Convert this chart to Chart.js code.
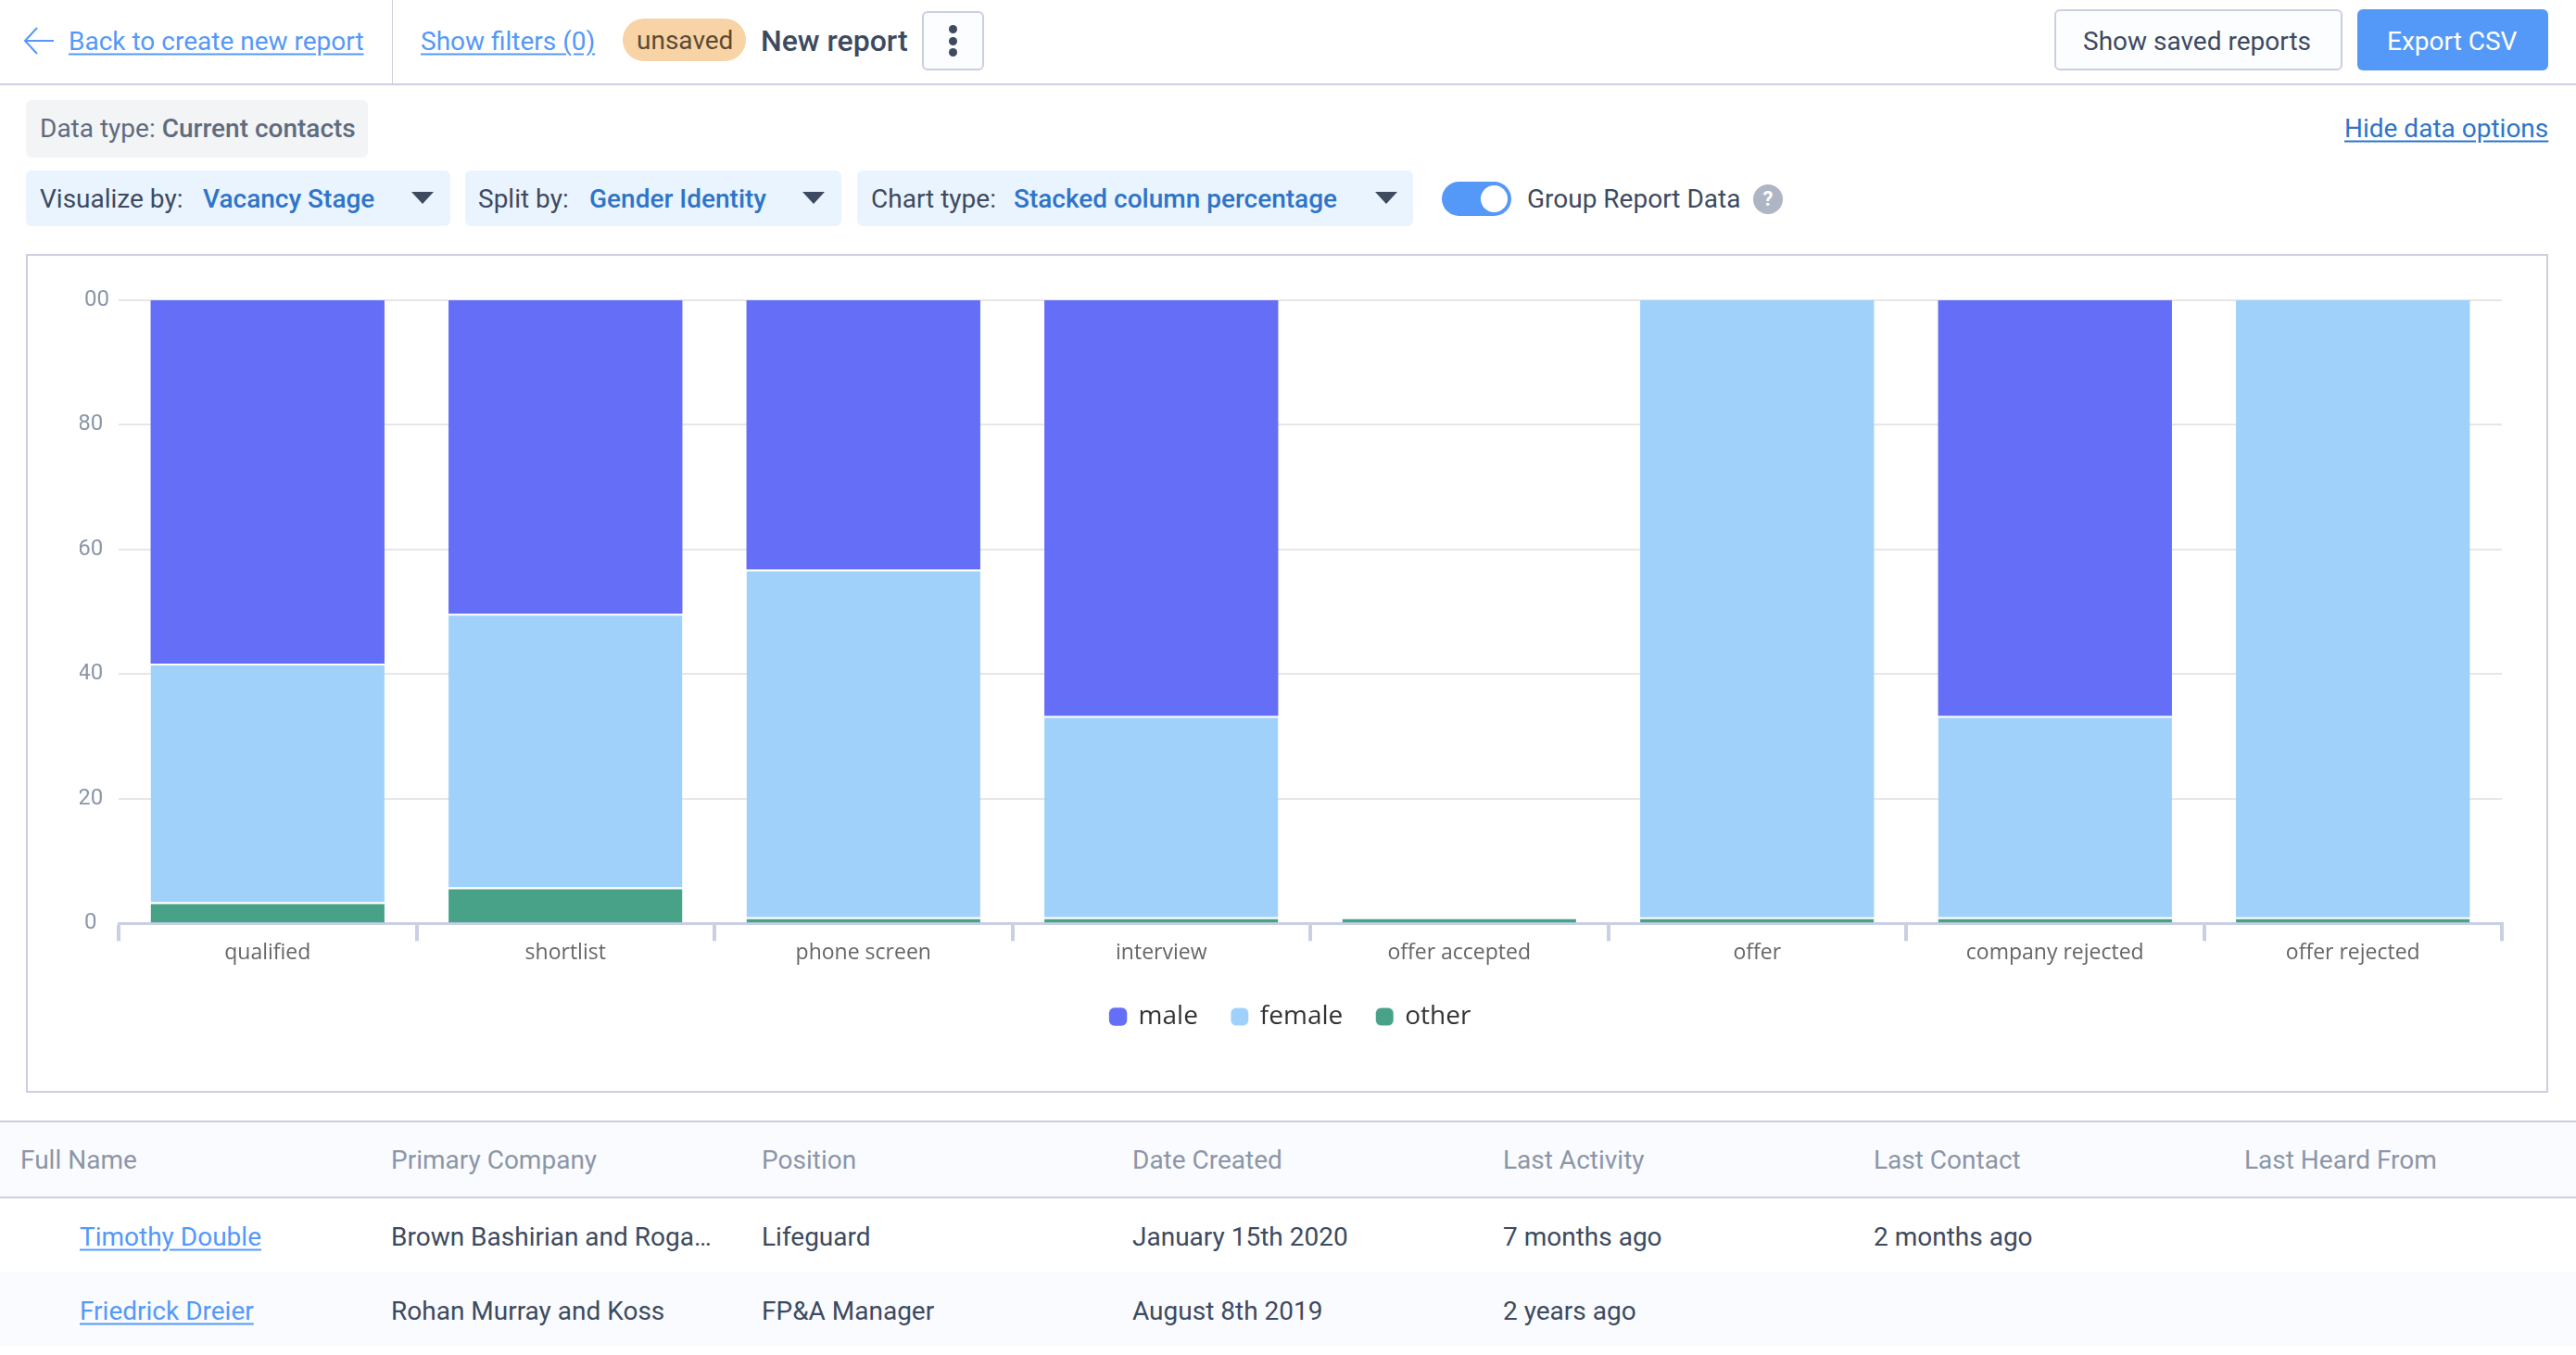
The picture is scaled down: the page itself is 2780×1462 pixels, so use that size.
<!DOCTYPE html>
<html>
<head>
<meta charset="utf-8">
<title>New report</title>
<script src="https://cdn.jsdelivr.net/npm/chart.js"></script>
<style>
html, body { margin: 0; padding: 0; background: #fff; }
body { width: 2780px; height: 1462px; position: relative; overflow: hidden; font-family: Roboto, sans-serif; font-size: 28px; color: #3d4a5f; }
.t { position: absolute; white-space: nowrap; transform: translateY(-50%); }
.box { position: absolute; box-sizing: border-box; }
.link { color: #5499f8; text-decoration: underline; text-underline-offset: 4px; }
.val { color: #2e75c9; font-weight: 500; }
.caret { position: absolute; width: 0; height: 0; border-left: 12px solid transparent; border-right: 12px solid transparent; border-top: 13px solid #3d4a5f; top: 207px; }
.head { color: #8b96a8; }
.dot { position: absolute; width: 9px; height: 9px; border-radius: 50%; background: #3d4a5f; left: 1024px; }
#chart { position: absolute; left: 31px; top: 278px; }
</style>
</head>
<body>
<!-- top bar -->
<div class="box" style="left:0;top:90px;width:2780px;height:2px;background:#cbcfe0"></div>
<div class="box" style="left:423px;top:0;width:1px;height:90px;background:#cbcfe0"></div>
<svg class="box" style="left:24px;top:28px" width="36" height="32" viewBox="0 0 36 32"><path d="M34 16H3M16 2L3 16l13 14" fill="none" stroke="#5499f8" stroke-width="2"/></svg>
<div class="t link" style="left:74px;top:44px">Back to create new report</div>
<div class="t link" style="left:454px;top:44px">Show filters (0)</div>
<div class="box" style="left:672px;top:20px;width:133px;height:46px;border-radius:23px;background:#f8d3a5"></div>
<div class="t" style="left:687px;top:43px;color:#5c4a33">unsaved</div>
<div class="t" style="left:821px;top:44px;font-weight:500;font-size:32px">New report</div>
<div class="box" style="left:995px;top:12px;width:67px;height:64px;border:2px solid #cbcfe0;border-radius:6px;background:#fcfdff"></div>
<div class="dot" style="top:27px"></div><div class="dot" style="top:40px"></div><div class="dot" style="top:52px"></div>
<div class="box" style="left:2217px;top:10px;width:311px;height:66px;border:2px solid #cbcfe0;border-radius:6px;background:#fcfdff"></div>
<div class="t" style="left:2248px;top:44px">Show saved reports</div>
<div class="box" style="left:2544px;top:10px;width:206px;height:66px;border-radius:6px;background:#5499f8"></div>
<div class="t" style="left:2576px;top:44px;color:#fff">Export CSV</div>

<!-- data options -->
<div class="box" style="left:28px;top:108px;width:369px;height:62px;border-radius:6px;background:#f3f4f6"></div>
<div class="t" style="left:43px;top:138px;color:#5f6b7e">Data type: <span style="font-weight:500">Current contacts</span></div>
<div class="t" style="left:2530px;top:138px;color:#2e75c9;text-decoration:underline;text-underline-offset:4px">Hide data options</div>

<div class="box" style="left:28px;top:184px;width:458px;height:60px;border-radius:6px;background:#eaf4fe"></div>
<div class="t" style="left:43px;top:214px">Visualize by:</div>
<div class="t val" style="left:219px;top:214px">Vacancy Stage</div>
<div class="caret" style="left:444px"></div>
<div class="box" style="left:502px;top:184px;width:406px;height:60px;border-radius:6px;background:#eaf4fe"></div>
<div class="t" style="left:516px;top:214px">Split by:</div>
<div class="t val" style="left:636px;top:214px">Gender Identity</div>
<div class="caret" style="left:866px"></div>
<div class="box" style="left:925px;top:184px;width:600px;height:60px;border-radius:6px;background:#eaf4fe"></div>
<div class="t" style="left:940px;top:214px">Chart type:</div>
<div class="t val" style="left:1094px;top:214px">Stacked column percentage</div>
<div class="caret" style="left:1484px"></div>
<div class="box" style="left:1556px;top:196px;width:75px;height:37px;border-radius:19px;background:#5499f8"></div>
<div class="box" style="left:1598px;top:200px;width:29px;height:29px;border-radius:50%;background:#fff"></div>
<div class="t" style="left:1648px;top:214px">Group Report Data</div>
<div class="box" style="left:1892px;top:199px;width:32px;height:32px;border-radius:50%;background:#aeb5c4;color:#fff;font-size:22px;font-weight:700;line-height:32px;text-align:center">?</div>

<!-- chart -->
<div class="box" style="left:28px;top:274px;width:2722px;height:905px;border:2px solid #cbcfe0"></div>
<canvas id="chart" width="2715" height="896"></canvas>

<!-- table -->
<div class="box" style="left:0;top:1209px;width:2780px;height:84px;background:#fafbfe;border-top:2px solid #cbcfe0;border-bottom:2px solid #cbcfe0"></div>
<div class="box" style="left:0;top:1372px;width:2780px;height:80px;background:#fafbfe"></div>
<div id="table"></div>

<script>
const categories = ['qualified', 'shortlist', 'phone screen', 'interview', 'offer accepted', 'offer', 'company rejected', 'offer rejected'];
const maleValues = [58.3, 50.3, 43.2, 66.7, 0, 0, 66.7, 0];
const femaleValues = [38.3, 43.9, 55.8, 32.3, 0, 99, 32.3, 99];
const otherValues = [3.4, 5.8, 1, 1, 1, 1, 1, 1];

const tableColumns = ['Full Name', 'Primary Company', 'Position', 'Date Created', 'Last Activity', 'Last Contact', 'Last Heard From'];
const tableRows = [
    ['Timothy Double', 'Brown Bashirian and Roga…', 'Lifeguard', 'January 15th 2020', '7 months ago', '2 months ago', ''],
    ['Friedrick Dreier', 'Rohan Murray and Koss', 'FP&A Manager', 'August 8th 2019', '2 years ago', '', '']
];

// table text
const columnX = [22, 422, 822, 1222, 1622, 2022, 2422];
const rowY = [1334, 1414];
let html = '';
tableColumns.forEach((c, i) => {
    html += `<div class="t head" style="left:${columnX[i]}px;top:1251px">${c}</div>`;
});
tableRows.forEach((row, r) => {
    row.forEach((cell, i) => {
        if (i === 0) {
            html += `<div class="t link" style="left:86px;top:${rowY[r]}px">${cell}</div>`;
        } else {
            html += `<div class="t" style="left:${columnX[i]}px;top:${rowY[r]}px">${cell.replace('&', '&amp;')}</div>`;
        }
    });
});
document.getElementById('table').innerHTML = html;

const axisColor = '#c9d0e4';

// white gap only where another segment sits on top
const femaleBorder = ctx => ({ top: maleValues[ctx.dataIndex] > 0 ? 2 : 0, left: 0, right: 0, bottom: 0 });

new Chart(document.getElementById('chart').getContext('2d'), {
    type: 'bar',
    data: {
        labels: categories,
        datasets: [
            { label: 'other', data: otherValues, backgroundColor: '#47a287', borderColor: '#fff', borderWidth: { top: 2, left: 0, right: 0, bottom: 0 }, borderSkipped: false },
            { label: 'female', data: femaleValues, backgroundColor: '#a0d1fb', borderColor: '#fff', borderWidth: femaleBorder, borderSkipped: false },
            { label: 'male', data: maleValues, backgroundColor: '#646ef7', borderWidth: 0 }
        ]
    },
    options: {
        responsive: false,
        animation: false,
        layout: { padding: { top: 46, left: 55, right: 46, bottom: 53 } },
        datasets: { bar: { categoryPercentage: 1, barPercentage: 0.785 } },
        plugins: {
            tooltip: { enabled: false },
            legend: {
                position: 'bottom',
                reverse: true,
                labels: {
                    usePointStyle: true,
                    pointStyle: 'rectRounded',
                    boxWidth: 16,
                    boxHeight: 16,
                    padding: 37,
                    color: '#333',
                    font: { family: '"Open Sans"', size: 28 }
                }
            }
        },
        scales: {
            x: {
                stacked: true,
                afterFit(scale) { scale.height += 5; },
                grid: { drawOnChartArea: false, color: axisColor, lineWidth: 4, tickLength: 19, offset: true },
                border: { color: axisColor, width: 3 },
                ticks: { color: '#666', font: { family: '"Open Sans"', size: 23 }, padding: -1, maxRotation: 0 }
            },
            y: {
                stacked: true,
                min: 0,
                max: 100,
                afterFit(scale) { scale.width = 42; },
                grid: { color: '#e6e6e6', lineWidth: 2, drawTicks: false },
                border: { display: false },
                ticks: { stepSize: 20, color: '#8b96a8', font: { family: 'Roboto', size: 24 }, padding: 10, crossAlign: 'center' }
            }
        }
    }
});
</script>
</body>
</html>
